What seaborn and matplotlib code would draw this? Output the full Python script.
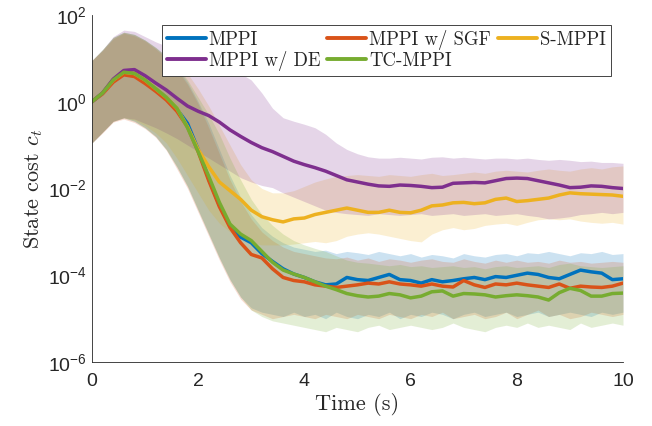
import numpy as np
import pandas as pd
import matplotlib
matplotlib.use("Agg")
import matplotlib.pyplot as plt
from matplotlib.font_manager import FontProperties
from matplotlib.lines import Line2D
from matplotlib.ticker import LogLocator, NullFormatter
import seaborn as sns

# Estilo
sns.set_style("white")
plt.rcParams["font.family"] = ["Liberation Sans", "DejaVu Sans"]
plt.rcParams["mathtext.fontset"] = "custom"
plt.rcParams["mathtext.rm"] = "Liberation Sans"
plt.rcParams["mathtext.it"] = "Liberation Sans:italic"
plt.rcParams["mathtext.bf"] = "Liberation Sans:bold"

# Tiempo (s), cada 0.2 s
time = np.linspace(0, 10, 51)

# log10 del coste (media)
mppi_mean = [0.0, 0.2, 0.5, 0.68, 0.64, 0.48, 0.30, 0.10, -0.17, -0.5,
             -1.1, -1.78, -2.38, -2.85, -3.12, -3.25, -3.5, -3.68, -3.85, -3.97,
             -4.05, -4.15, -4.22, -4.2, -4.05, -4.1, -4.12, -4.05, -3.98, -4.1,
             -4.12, -4.18, -4.1, -4.15, -4.12, -4.08, -4.05, -4.1, -4.03, -4.05,
             -4.0, -3.95, -3.98, -4.05, -4.08, -3.98, -3.88, -3.92, -3.95, -4.1, -4.08]
sgf_mean = [0.0, 0.18, 0.45, 0.62, 0.58, 0.42, 0.24, 0.04, -0.22, -0.58,
            -1.15, -1.82, -2.42, -2.9, -3.25, -3.52, -3.6, -3.85, -4.05, -4.12,
            -4.15, -4.22, -4.25, -4.28, -4.25, -4.22, -4.18, -4.2, -4.15, -4.2,
            -4.22, -4.25, -4.2, -4.25, -4.27, -4.12, -4.22, -4.28, -4.2, -4.22,
            -4.18, -4.22, -4.25, -4.28, -4.2, -4.3, -4.25, -4.27, -4.28, -4.25, -4.18]
smppi_mean = [0.0, 0.2, 0.5, 0.68, 0.65, 0.5, 0.3, 0.1, -0.15, -0.58,
              -1.1, -1.5, -1.85, -2.05, -2.25, -2.5, -2.65, -2.72, -2.77, -2.7,
              -2.68, -2.6, -2.55, -2.5, -2.45, -2.5, -2.55, -2.55, -2.5, -2.55,
              -2.56, -2.5, -2.4, -2.38, -2.33, -2.32, -2.35, -2.33, -2.25, -2.22,
              -2.3, -2.28, -2.25, -2.22, -2.15, -2.1, -2.12, -2.13, -2.14, -2.15, -2.18]
de_mean = [0.0, 0.2, 0.52, 0.72, 0.74, 0.6, 0.43, 0.27, 0.08, -0.1,
           -0.22, -0.32, -0.47, -0.65, -0.8, -0.94, -1.06, -1.15, -1.26, -1.37,
           -1.45, -1.52, -1.6, -1.7, -1.8, -1.85, -1.9, -1.94, -1.95, -1.92,
           -1.93, -1.95, -1.98, -1.97, -1.88, -1.87, -1.86, -1.87, -1.82, -1.77,
           -1.76, -1.77, -1.82, -1.87, -1.92, -1.98, -1.97, -1.94, -1.95, -1.98, -2.0]
tc_mean = [0.0, 0.2, 0.5, 0.68, 0.65, 0.5, 0.3, 0.1, -0.15, -0.6,
           -1.15, -1.72, -2.32, -2.82, -3.05, -3.2, -3.45, -3.7, -3.88, -3.97,
           -4.05, -4.15, -4.25, -4.33, -4.42, -4.47, -4.5, -4.48, -4.42, -4.45,
           -4.52, -4.48, -4.38, -4.36, -4.48, -4.42, -4.43, -4.45, -4.5, -4.47,
           -4.45, -4.47, -4.5, -4.57, -4.4, -4.3, -4.35, -4.48, -4.48, -4.42, -4.41]

# log10 de las bandas (superior / inferior)
mppi_hi = [0.95, 1.2, 1.48, 1.6, 1.55, 1.42, 1.25, 1.05, 0.8, 0.45,
           0.0, -0.5, -1.1, -1.7, -2.2, -2.6, -2.9, -3.1, -3.25, -3.35,
           -3.4, -3.45, -3.42, -3.5, -3.45, -3.48, -3.52, -3.45, -3.5, -3.55,
           -3.5, -3.58, -3.52, -3.55, -3.6, -3.5, -3.55, -3.58, -3.52, -3.5,
           -3.55, -3.48, -3.5, -3.45, -3.5, -3.55, -3.48, -3.5, -3.45, -3.52, -3.5]
mppi_lo = [-0.95, -0.7, -0.45, -0.37, -0.45, -0.6, -0.8, -1.1, -1.5, -1.95,
           -2.5, -3.05, -3.6, -4.1, -4.5, -4.75, -4.85, -4.9, -4.95, -4.85,
           -4.95, -4.9, -5.0, -4.85, -4.95, -5.0, -4.9, -4.95, -4.85, -5.0,
           -4.9, -4.95, -4.85, -4.9, -5.0, -4.9, -4.85, -4.95, -4.9, -4.85,
           -4.95, -4.9, -4.85, -4.95, -4.9, -4.85, -4.9, -4.95, -4.85, -4.9, -4.85]
sgf_hi = [0.95, 1.18, 1.45, 1.58, 1.52, 1.4, 1.22, 1.0, 0.75, 0.4,
          -0.05, -0.6, -1.2, -1.8, -2.3, -2.7, -3.0, -3.2, -3.35, -3.45,
          -3.5, -3.55, -3.6, -3.62, -3.58, -3.65, -3.6, -3.68, -3.62, -3.65,
          -3.7, -3.65, -3.62, -3.68, -3.7, -3.62, -3.68, -3.72, -3.65, -3.7,
          -3.65, -3.7, -3.68, -3.72, -3.65, -3.7, -3.68, -3.72, -3.7, -3.68, -3.7]
sgf_lo = [-0.95, -0.72, -0.47, -0.4, -0.48, -0.62, -0.82, -1.12, -1.55, -2.0,
          -2.55, -3.1, -3.65, -4.15, -4.55, -4.8, -4.9, -5.0, -4.95, -4.9,
          -4.95, -5.0, -4.9, -4.95, -5.0, -4.9, -4.95, -5.0, -4.9, -4.95,
          -5.0, -4.9, -4.95, -4.85, -5.0, -4.95, -4.9, -5.0, -4.95, -4.85,
          -5.0, -4.9, -4.8, -4.95, -4.9, -5.0, -4.95, -4.85, -4.9, -4.95, -4.9]
smppi_hi = [0.95, 1.2, 1.48, 1.6, 1.55, 1.42, 1.25, 1.05, 0.9, 0.65,
            0.3, -0.1, -0.55, -1.0, -1.45, -1.8, -2.0, -2.1, -2.1, -2.05,
            -1.95, -1.85, -1.78, -1.72, -1.7, -1.68, -1.7, -1.72, -1.68, -1.7,
            -1.72, -1.68, -1.65, -1.7, -1.68, -1.65, -1.62, -1.65, -1.6, -1.58,
            -1.6, -1.62, -1.58, -1.55, -1.58, -1.6, -1.55, -1.52, -1.55, -1.5, -1.48]
smppi_lo = [-0.95, -0.7, -0.45, -0.37, -0.42, -0.55, -0.72, -0.95, -1.3, -1.7,
            -2.1, -2.5, -2.8, -3.0, -3.15, -3.25, -3.3, -3.3, -3.3, -3.28,
            -3.25, -3.22, -3.25, -3.2, -3.1, -3.05, -3.02, -3.05, -3.1, -3.15,
            -3.2, -3.23, -3.05, -2.95, -2.9, -2.95, -2.92, -2.85, -2.82, -2.8,
            -2.85, -2.78, -2.72, -2.7, -2.72, -2.7, -2.75, -2.78, -2.8, -2.78, -2.82]
de_hi = [0.95, 1.2, 1.5, 1.65, 1.62, 1.5, 1.38, 1.28, 1.18, 1.1,
         1.0, 0.93, 0.85, 0.75, 0.65, 0.5, 0.2, -0.15, -0.37, -0.45,
         -0.52, -0.6, -0.75, -0.95, -1.1, -1.2, -1.27, -1.3, -1.3, -1.28,
         -1.3, -1.32, -1.28, -1.27, -1.3, -1.28, -1.3, -1.32, -1.3, -1.3,
         -1.32, -1.3, -1.33, -1.35, -1.33, -1.35, -1.38, -1.37, -1.4, -1.4, -1.42]
de_lo = [-0.95, -0.7, -0.45, -0.37, -0.4, -0.5, -0.6, -0.72, -0.85, -1.0,
         -1.15, -1.3, -1.45, -1.6, -1.75, -1.85, -1.93, -1.98, -2.1, -2.2,
         -2.3, -2.4, -2.5, -2.55, -2.58, -2.6, -2.62, -2.58, -2.6, -2.62,
         -2.6, -2.58, -2.62, -2.6, -2.58, -2.62, -2.6, -2.58, -2.62, -2.6,
         -2.58, -2.62, -2.65, -2.7, -2.68, -2.65, -2.6, -2.58, -2.55, -2.58, -2.55]
tc_hi = [0.95, 1.2, 1.48, 1.6, 1.55, 1.42, 1.25, 1.05, 0.82, 0.5,
         0.1, -0.3, -0.75, -1.3, -1.8, -2.25, -2.6, -2.85, -3.05, -3.2,
         -3.3, -3.38, -3.45, -3.55, -3.65, -3.7, -3.72, -3.75, -3.78, -3.75,
         -3.8, -3.78, -3.82, -3.8, -3.78, -3.82, -3.8, -3.85, -3.8, -3.78,
         -3.82, -3.8, -3.78, -3.82, -3.75, -3.72, -3.78, -3.8, -3.82, -3.8, -3.78]
tc_lo = [-0.95, -0.7, -0.45, -0.37, -0.45, -0.6, -0.8, -1.1, -1.5, -1.95,
         -2.5, -3.05, -3.6, -4.1, -4.5, -4.8, -4.95, -5.05, -5.1, -5.15,
         -5.2, -5.25, -5.3, -5.2, -5.25, -5.3, -5.2, -5.15, -5.25, -5.2,
         -5.15, -5.2, -5.25, -5.2, -5.1, -5.2, -5.25, -5.3, -5.2, -5.15,
         -5.2, -5.1, -5.2, -5.15, -5.2, -5.25, -5.1, -5.2, -5.15, -5.1, -5.15]

methods = ["MPPI", "MPPI w/ SGF", "S-MPPI", "MPPI w/ DE", "TC-MPPI"]
colors = {
    "MPPI": "#0072BD",
    "MPPI w/ SGF": "#D95319",
    "S-MPPI": "#EDB120",
    "MPPI w/ DE": "#7E2F8E",
    "TC-MPPI": "#77AC30",
}
means = {"MPPI": mppi_mean, "MPPI w/ SGF": sgf_mean, "S-MPPI": smppi_mean,
         "MPPI w/ DE": de_mean, "TC-MPPI": tc_mean}
bands = {"MPPI": (mppi_lo, mppi_hi), "MPPI w/ SGF": (sgf_lo, sgf_hi),
         "S-MPPI": (smppi_lo, smppi_hi), "MPPI w/ DE": (de_lo, de_hi),
         "TC-MPPI": (tc_lo, tc_hi)}

df = pd.concat([
    pd.DataFrame({"time": time, "cost": 10.0 ** np.array(means[m]), "method": m})
    for m in methods
])

fig, ax = plt.subplots(figsize=(6.52, 4.26), dpi=100)
fig.subplots_adjust(left=0.141, right=0.9555, bottom=0.15, top=0.965)

for m in methods:
    lo, hi = bands[m]
    ax.fill_between(time, 10.0 ** np.array(lo), 10.0 ** np.array(hi),
                    color=colors[m], alpha=0.2, linewidth=0)

sns.lineplot(data=df, x="time", y="cost", hue="method", hue_order=methods,
             palette=colors, linewidth=2.5, ax=ax, legend=False)

ax.set_yscale("log")
ax.set_xlim(0, 10)
ax.set_ylim(1e-6, 1e2)
ax.set_xticks([0, 2, 4, 6, 8, 10])
ax.set_yticks([1e-6, 1e-4, 1e-2, 1e0, 1e2])
ax.yaxis.set_minor_locator(LogLocator(base=10, subs=np.arange(2, 10), numticks=20))
ax.yaxis.set_minor_formatter(NullFormatter())
ax.tick_params(which="both", direction="in", colors="#262626", labelsize=14, width=0.6)
ax.tick_params(which="major", length=4)
ax.tick_params(which="minor", length=2)
ax.tick_params(axis="x", pad=8)
for s in ["top", "right"]:
    ax.spines[s].set_visible(False)
for s in ["left", "bottom"]:
    ax.spines[s].set_color("#262626")
    ax.spines[s].set_linewidth(0.6)

cm_font = FontProperties(family="cmr10", size=16, math_fontfamily="cm")
ax.set_xlabel("Time (s)", fontproperties=cm_font, labelpad=2)
ax.set_ylabel(r"State cost $c_t$", fontproperties=cm_font, labelpad=2)

order = ["MPPI", "MPPI w/ DE", "MPPI w/ SGF", "TC-MPPI", "S-MPPI"]
handles = [Line2D([0], [0], color=colors[m], linewidth=2.8) for m in order]
leg = ax.legend(handles, order, ncol=3, loc="upper left", bbox_to_anchor=(0.132, 0.971),
                prop=FontProperties(family="cmr10", size=13.5),
                frameon=True, fancybox=False, edgecolor="#262626", framealpha=1,
                borderpad=0.25, handlelength=2.08, handletextpad=0.16,
                columnspacing=0.37, labelspacing=0.12, borderaxespad=0)
leg.get_frame().set_linewidth(0.6)

plt.savefig("out.png", dpi=100)
plt.close()
